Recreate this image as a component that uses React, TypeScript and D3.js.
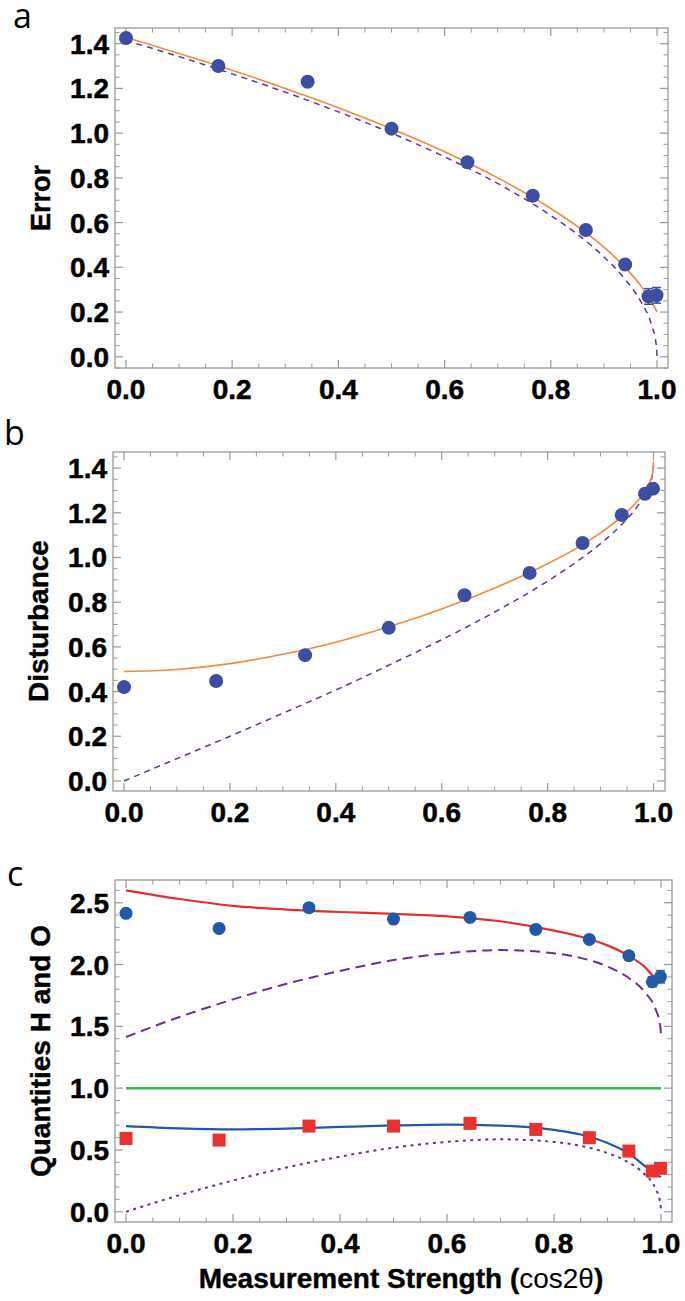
import React from "react";
import * as d3 from "d3";

// ---------- data ----------
const strengths = [0, 0.174, 0.342, 0.5, 0.643, 0.766, 0.866, 0.94, 0.984, 0.999];

const errorData = [1.425, 1.3, 1.23, 1.02, 0.87, 0.72, 0.567, 0.413, 0.27, 0.275];
const errorBars = [0, 0, 0, 0, 0, 0, 0, 0, 0.035, 0.035];

const disturbanceData = [0.42, 0.447, 0.563, 0.685, 0.831, 0.931, 1.065, 1.19, 1.285, 1.308];
const disturbanceBars = [0, 0, 0, 0, 0, 0, 0, 0, 0.015, 0.015];

const ozawaData = [2.414, 2.292, 2.46, 2.368, 2.381, 2.284, 2.203, 2.071, 1.861, 1.901];
const ozawaBars = [0, 0, 0, 0, 0, 0, 0, 0, 0.04, 0.05];

const heisData = [0.593, 0.58, 0.693, 0.693, 0.715, 0.666, 0.599, 0.491, 0.329, 0.351];
const heisBars = [0, 0, 0, 0, 0, 0, 0, 0, 0.025, 0.02];

const theoryX = [0, 0.1, 0.2, 0.3, 0.4, 0.5, 0.6, 0.7, 0.8, 0.85, 0.9, 0.94, 0.97, 0.99, 0.998, 0.9995, 1.0];
const errorTheory = [1.414, 1.342, 1.265, 1.183, 1.095, 1.0, 0.894, 0.775, 0.632, 0.548, 0.447, 0.346, 0.245, 0.141, 0.063, 0.032, 0];
const errorFit = [1.428, 1.356, 1.281, 1.2, 1.114, 1.02, 0.917, 0.8, 0.663, 0.583, 0.49, 0.4, 0.316, 0.245, 0.21, 0.202, 0.2];
const disturbanceTheory = [0, 0.1, 0.2, 0.303, 0.407, 0.518, 0.632, 0.756, 0.894, 0.973, 1.062, 1.148, 1.23, 1.311, 1.369, 1.392, 1.414];
const disturbanceFit = [0.49, 0.499, 0.525, 0.567, 0.621, 0.69, 0.769, 0.863, 0.972, 1.035, 1.11, 1.183, 1.254, 1.324, 1.375, 1.4, 1.43];
const ozawaTheory = [1.414, 1.576, 1.718, 1.844, 1.948, 2.036, 2.091, 2.117, 2.091, 2.054, 1.984, 1.891, 1.776, 1.637, 1.518, 1.467, 1.414];
const productTheory = [0, 0.134, 0.253, 0.358, 0.446, 0.518, 0.565, 0.586, 0.565, 0.533, 0.475, 0.397, 0.301, 0.185, 0.086, 0.044, 0];

const fitX = [0, 0.1, 0.2, 0.3, 0.4, 0.5, 0.6, 0.7, 0.8, 0.85, 0.9, 0.94, 0.97, 0.99, 1.0];
const ozawaFit = [2.6, 2.53, 2.475, 2.445, 2.425, 2.41, 2.39, 2.35, 2.275, 2.225, 2.155, 2.07, 1.98, 1.895, 1.89];
const heisFit = [0.693, 0.675, 0.667, 0.673, 0.686, 0.698, 0.705, 0.697, 0.662, 0.625, 0.556, 0.47, 0.37, 0.305, 0.28];

const boundX = [0, 1];
const boundY = [1, 1];

const xTicks = [0, 0.2, 0.4, 0.6, 0.8, 1.0];
const yTicksAB = [0, 0.2, 0.4, 0.6, 0.8, 1.0, 1.2, 1.4];
const yTicksC = [0, 0.5, 1.0, 1.5, 2.0, 2.5];

// ---------- styling ----------
const FONT = "'Liberation Sans', Arial, Helvetica, sans-serif";
const LETTER_FONT = "'Open Sans', 'Noto Sans', sans-serif";
const FRAME = "#9a9a9a";
const PURPLE = "#6e2f8f";
const ORANGE = "#f28a3a";
const DOT_AB = "#3d4d9f";
const DOT_C = "#2159a8";
const SQ_C = "#e8322f";
const RED_LINE = "#e2302e";
const BLUE_LINE = "#2458a6";
const GREEN = "#3ab54a";

type Frame = { l: number; r: number; t: number; b: number };

function isMultiple(v: number, step: number) {
  const q = v / step;
  return Math.abs(q - Math.round(q)) < 1e-6;
}

function Axes(props: {
  frame: Frame;
  x: d3.ScaleLinear<number, number>;
  y: d3.ScaleLinear<number, number>;
  yMajor: number[];
  yMajorStep: number;
  yMinorStep: number;
}) {
  const { frame, x, y, yMajor, yMajorStep, yMinorStep } = props;
  const [x0, x1] = x.domain();
  const [y0, y1] = y.domain();
  const xMinor = d3.range(-1, 2.0001, 0.05).map((v) => Math.round(v * 100) / 100)
    .filter((v) => v >= x0 && v <= x1 && !isMultiple(v, 0.2));
  const yMinor = d3.range(-1, 3.0001, yMinorStep).map((v) => Math.round(v * 100) / 100)
    .filter((v) => v >= y0 && v <= y1 && !isMultiple(v, yMajorStep));
  const MJ = 8, MN = 4.5;
  const els: React.ReactNode[] = [];
  xTicks.forEach((v, i) => {
    const px = x(v);
    els.push(<line key={"xb" + i} x1={px} x2={px} y1={frame.b} y2={frame.b - MJ} stroke={FRAME} strokeWidth={1.2} />);
    els.push(<line key={"xt" + i} x1={px} x2={px} y1={frame.t} y2={frame.t + MJ} stroke={FRAME} strokeWidth={1.2} />);
    els.push(
      <text key={"xl" + i} x={px} y={frame.b + 31} textAnchor="middle" fontFamily={FONT} fontWeight="bold" fontSize={28} fill="#000" stroke="#000" strokeWidth={0.5}>
        {d3.format(".1f")(v)}
      </text>
    );
  });
  xMinor.forEach((v, i) => {
    const px = x(v);
    els.push(<line key={"xmb" + i} x1={px} x2={px} y1={frame.b} y2={frame.b - MN} stroke={FRAME} strokeWidth={1} />);
    els.push(<line key={"xmt" + i} x1={px} x2={px} y1={frame.t} y2={frame.t + MN} stroke={FRAME} strokeWidth={1} />);
  });
  yMajor.forEach((v, i) => {
    const py = y(v);
    els.push(<line key={"yl" + i} x1={frame.l} x2={frame.l + MJ} y1={py} y2={py} stroke={FRAME} strokeWidth={1.2} />);
    els.push(<line key={"yr" + i} x1={frame.r} x2={frame.r - MJ} y1={py} y2={py} stroke={FRAME} strokeWidth={1.2} />);
    els.push(
      <text key={"ylab" + i} x={frame.l - 6} y={py + 10} textAnchor="end" fontFamily={FONT} fontWeight="bold" fontSize={28} fill="#000" stroke="#000" strokeWidth={0.5}>
        {d3.format(".1f")(v)}
      </text>
    );
  });
  yMinor.forEach((v, i) => {
    const py = y(v);
    els.push(<line key={"yml" + i} x1={frame.l} x2={frame.l + MN} y1={py} y2={py} stroke={FRAME} strokeWidth={1} />);
    els.push(<line key={"ymr" + i} x1={frame.r} x2={frame.r - MN} y1={py} y2={py} stroke={FRAME} strokeWidth={1} />);
  });
  return (
    <g>
      <rect x={frame.l} y={frame.t} width={frame.r - frame.l} height={frame.b - frame.t} fill="none" stroke={FRAME} strokeWidth={1.3} />
      {els}
    </g>
  );
}

function makeLine(x: d3.ScaleLinear<number, number>, y: d3.ScaleLinear<number, number>, xs: number[], ys: number[]) {
  const gen = d3.line<number>().x((_, i) => x(xs[i])).y((d) => y(d)).curve(d3.curveMonotoneX);
  return gen(ys) || "";
}

function ErrorBars(props: { x: any; y: any; vals: number[]; errs: number[]; color: string }) {
  const { x, y, vals, errs, color } = props;
  return (
    <g>
      {vals.map((v, i) => {
        if (!errs[i]) return null;
        const px = x(strengths[i]);
        const lo = y(v - errs[i]);
        const hi = y(v + errs[i]);
        return (
          <g key={i} stroke={color} strokeWidth={1.5}>
            <line x1={px} x2={px} y1={lo} y2={hi} />
            <line x1={px - 4.5} x2={px + 4.5} y1={lo} y2={lo} />
            <line x1={px - 4.5} x2={px + 4.5} y1={hi} y2={hi} />
          </g>
        );
      })}
    </g>
  );
}

export default function App() {
  // Panel a
  const fa: Frame = { l: 115, r: 668, t: 28, b: 368 };
  const xa = d3.scaleLinear().domain([-0.0207, 1.0207]).range([fa.l, fa.r]);
  const ya = d3.scaleLinear().domain([-0.05, 1.47]).range([fa.b, fa.t]);
  // Panel b
  const fb: Frame = { l: 113, r: 665, t: 452, b: 791 };
  const xb = d3.scaleLinear().domain([-0.0208, 1.0217]).range([fb.l, fb.r]);
  const yb = d3.scaleLinear().domain([-0.045, 1.472]).range([fb.b, fb.t]);
  // Panel c
  const fc: Frame = { l: 115, r: 672, t: 880, b: 1222 };
  const xc = d3.scaleLinear().domain([-0.0206, 1.0206]).range([fc.l, fc.r]);
  const yc = d3.scaleLinear().domain([-0.083, 2.684]).range([fc.b, fc.t]);

  return (
    <svg width={685} height={1301} viewBox="0 0 685 1301" style={{ display: "block", position: "absolute", left: 0, top: 0, background: "#fff" }}>
      <rect x={0} y={0} width={685} height={1301} fill="#fff" />

      {/* ---------- Panel a ---------- */}
      <text x={13} y={28} fontFamily={LETTER_FONT} fontSize={34} fill="#000">a</text>
      <Axes frame={fa} x={xa} y={ya} yMajor={yTicksAB} yMajorStep={0.2} yMinorStep={0.05} />
      <text transform={`translate(50,198) rotate(-90)`} textAnchor="middle" fontFamily={FONT} fontWeight="bold" fontSize={27} stroke="#000" strokeWidth={0.4}>Error</text>
      <path d={makeLine(xa, ya, theoryX, errorTheory)} fill="none" stroke={PURPLE} strokeWidth={1.5} strokeDasharray="6,5" />
      <path d={makeLine(xa, ya, theoryX, errorFit)} fill="none" stroke={ORANGE} strokeWidth={1.6} />
      <ErrorBars x={xa} y={ya} vals={errorData} errs={errorBars} color={DOT_AB} />
      {errorData.map((v, i) => (
        <circle key={i} cx={xa(strengths[i])} cy={ya(v)} r={7} fill={DOT_AB} />
      ))}

      {/* ---------- Panel b ---------- */}
      <text x={4} y={445} fontFamily={LETTER_FONT} fontSize={34} fill="#000">b</text>
      <Axes frame={fb} x={xb} y={yb} yMajor={yTicksAB} yMajorStep={0.2} yMinorStep={0.05} />
      <text transform={`translate(48,621) rotate(-90)`} textAnchor="middle" fontFamily={FONT} fontWeight="bold" fontSize={28} stroke="#000" strokeWidth={0.4}>Disturbance</text>
      <path d={makeLine(xb, yb, theoryX, disturbanceTheory)} fill="none" stroke={PURPLE} strokeWidth={1.5} strokeDasharray="6,5" />
      <path d={makeLine(xb, yb, theoryX, disturbanceFit)} fill="none" stroke={ORANGE} strokeWidth={1.6} />
      <ErrorBars x={xb} y={yb} vals={disturbanceData} errs={disturbanceBars} color={DOT_AB} />
      {disturbanceData.map((v, i) => (
        <circle key={i} cx={xb(strengths[i])} cy={yb(v)} r={7} fill={DOT_AB} />
      ))}

      {/* ---------- Panel c ---------- */}
      <text x={7} y={886} fontFamily={LETTER_FONT} fontSize={34} fill="#000">c</text>
      <Axes frame={fc} x={xc} y={yc} yMajor={yTicksC} yMajorStep={0.5} yMinorStep={0.1} />
      <text transform={`translate(50,1051) rotate(-90)`} textAnchor="middle" fontFamily={FONT} fontWeight="bold" fontSize={28} stroke="#000" strokeWidth={0.4}>Quantities H and O</text>
      <text x={401} y={1288} textAnchor="middle" fontFamily={FONT} fontSize={28} fill="#000">
        <tspan fontWeight="bold" stroke="#000" strokeWidth={0.4}>Measurement Strength (</tspan>
        <tspan fontWeight="normal">cos2θ</tspan>
        <tspan fontWeight="bold" stroke="#000" strokeWidth={0.4}>)</tspan>
      </text>
      <path d={makeLine(xc, yc, boundX, boundY)} fill="none" stroke={GREEN} strokeWidth={2.5} />
      <path d={makeLine(xc, yc, theoryX, ozawaTheory)} fill="none" stroke={PURPLE} strokeWidth={2} strokeDasharray="10,6" />
      <path d={makeLine(xc, yc, theoryX, productTheory)} fill="none" stroke={PURPLE} strokeWidth={2} strokeDasharray="3,4.5" />
      <path d={makeLine(xc, yc, fitX, ozawaFit)} fill="none" stroke={RED_LINE} strokeWidth={2.2} />
      <path d={makeLine(xc, yc, fitX, heisFit)} fill="none" stroke={BLUE_LINE} strokeWidth={2.2} />
      <ErrorBars x={xc} y={yc} vals={ozawaData} errs={ozawaBars} color={DOT_C} />
      <ErrorBars x={xc} y={yc} vals={heisData} errs={heisBars} color={SQ_C} />
      {ozawaData.map((v, i) => (
        <circle key={i} cx={xc(strengths[i])} cy={yc(v)} r={6.5} fill={DOT_C} />
      ))}
      {heisData.map((v, i) => (
        <rect key={i} x={xc(strengths[i]) - 6.5} y={yc(v) - 6.5} width={13} height={13} fill={SQ_C} />
      ))}
    </svg>
  );
}
